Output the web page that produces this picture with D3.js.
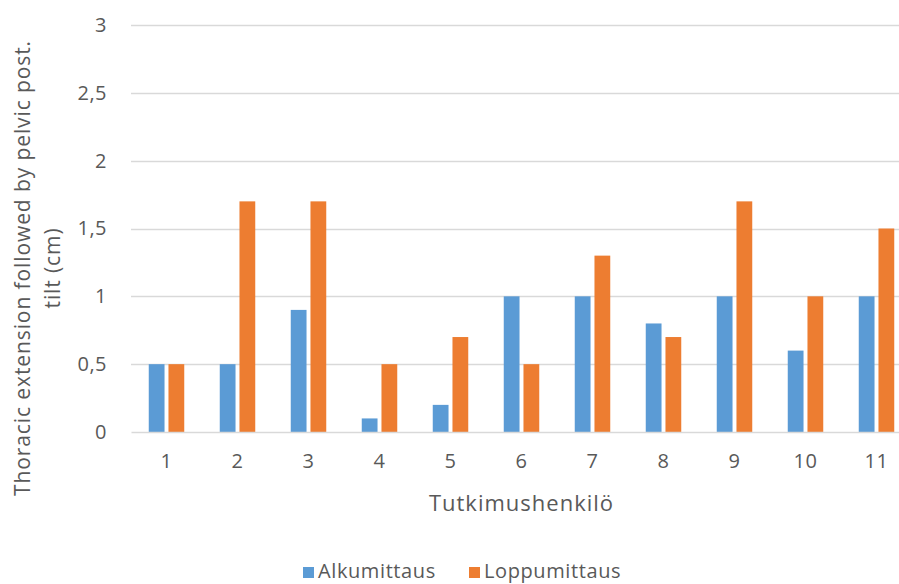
<!DOCTYPE html>
<html>
<head>
<meta charset="utf-8">
<script src="https://cdn.jsdelivr.net/npm/d3@7"></script>
<style>
  html, body { margin: 0; padding: 0; background: #fff; }
  svg text { font-family: "Open Sans", "Liberation Sans", sans-serif; fill: #595959; }
</style>
</head>
<body>
<svg id="chart" width="899" height="584"></svg>
<script>
// Subjects (Tutkimushenkilö) and the two measurements per subject
const subjects = ["1", "2", "3", "4", "5", "6", "7", "8", "9", "10", "11"];
const seriesNames = ["Alkumittaus", "Loppumittaus"];
const alkumittaus = [0.5, 0.5, 0.9, 0.1, 0.2, 1.0, 1.0, 0.8, 1.0, 0.6, 1.0];
const loppumittaus = [0.5, 1.7, 1.7, 0.5, 0.7, 0.5, 1.3, 0.7, 1.7, 1.0, 1.5];
const yTicks = [0, 0.5, 1, 1.5, 2, 2.5, 3];
const colors = ["#5B9BD5", "#ED7D31"];

const rows = subjects.map((s, i) => ({ subject: s, values: [alkumittaus[i], loppumittaus[i]] }));

const svg = d3.select("#chart");
const plot = { left: 131, right: 912, top: 25, bottom: 432 };

const x0 = d3.scaleBand().domain(subjects).range([plot.left, plot.right])
  .paddingInner(0.5).paddingOuter(0.25);
const x1 = d3.scaleBand().domain(seriesNames).range([0, x0.bandwidth()]).paddingInner(0.2);
const y = d3.scaleLinear().domain([0, 3]).range([plot.bottom, plot.top]);

const fmt = v => String(v).replace(".", ",");

// Horizontal gridlines
svg.append("g").selectAll("line").data(yTicks.filter(t => t > 0)).join("line")
  .attr("x1", plot.left).attr("x2", plot.right)
  .attr("y1", d => Math.round(y(d)) + 0.5).attr("y2", d => Math.round(y(d)) + 0.5)
  .attr("stroke", "#d9d9d9").attr("stroke-width", 1.5);

// Y axis labels
const yAxis = d3.axisLeft(y).tickValues(yTicks).tickFormat(fmt).tickSize(0).tickPadding(24);
const gy = svg.append("g").attr("transform", `translate(${plot.left},0)`).call(yAxis);
gy.select(".domain").remove();
gy.selectAll("text").style("font-size", "20px").style("letter-spacing", "0.5px").attr("fill", "#595959");

// Bars
const groups = svg.append("g").selectAll("g").data(rows).join("g")
  .attr("transform", d => `translate(${x0(d.subject)},0)`);
groups.selectAll("rect").data(d => d.values.map((v, i) => ({ key: seriesNames[i], v, i }))).join("rect")
  .attr("x", d => x1(d.key))
  .attr("width", x1.bandwidth())
  .attr("y", d => y(d.v))
  .attr("height", d => y(0) - y(d.v))
  .attr("fill", d => colors[d.i]);

// X axis baseline and labels
const xAxis = d3.axisBottom(x0).tickSize(0).tickPadding(22);
const gx = svg.append("g").attr("transform", `translate(0,${plot.bottom})`).call(xAxis);
gx.select(".domain").attr("stroke", "#d9d9d9").attr("stroke-width", 1.5);
gx.selectAll("text").style("font-size", "20px").style("letter-spacing", "0.5px").attr("fill", "#595959");

// X axis title
svg.append("text")
  .attr("x", (plot.left + plot.right) / 2).attr("y", 511)
  .attr("text-anchor", "middle").style("font-size", "22px").style("letter-spacing", "1px")
  .text("Tutkimushenkilö");

// Y axis title (two lines)
const yTitle = svg.append("text")
  .attr("transform", "translate(0,268) rotate(-90)")
  .attr("text-anchor", "middle").style("font-size", "21px").style("letter-spacing", "0.9px");
yTitle.append("tspan").attr("x", 0).attr("y", 30).text("Thoracic extension followed by pelvic post.");
yTitle.append("tspan").attr("x", 0).attr("y", 60).text("tilt (cm)");

// Legend
const legendItems = [
  { name: seriesNames[0], color: colors[0], x: 303 },
  { name: seriesNames[1], color: colors[1], x: 469 }
];
const lg = svg.append("g").selectAll("g").data(legendItems).join("g")
  .attr("transform", d => `translate(${d.x},0)`);
lg.append("rect").attr("x", 0).attr("y", 567).attr("width", 11).attr("height", 11)
  .attr("fill", d => d.color);
lg.append("text").attr("x", 15).attr("y", 578).style("font-size", "20px").style("letter-spacing", "0.6px").text(d => d.name);
</script>
</body>
</html>
